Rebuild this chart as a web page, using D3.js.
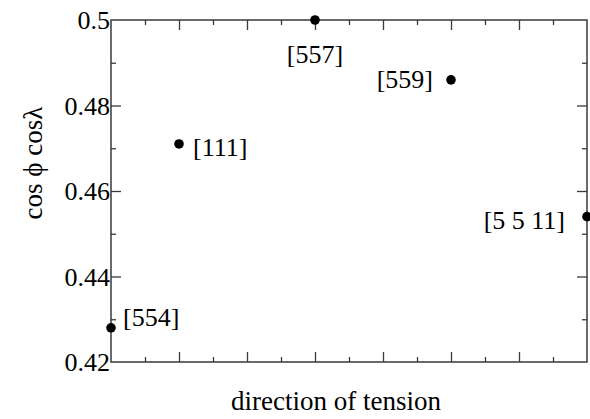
<!DOCTYPE html>
<html><head><meta charset="utf-8">
<script src="https://cdn.jsdelivr.net/npm/d3@7"></script>
<style>body{margin:0;background:#fff}svg{display:block}</style>
</head><body>
<svg id="c" width="590" height="419"></svg>
<script>
const directions = ["[554]","[111]","[557]","[559]","[5 5 11]"];
const positions = [0, 1, 3, 5, 7];
const values = [0.428, 0.471, 0.500, 0.486, 0.454];
const yTicks = [0.42, 0.44, 0.46, 0.48, 0.5];
const yTickLabels = ["0.42", "0.44", "0.46", "0.48", "0.5"];
const xTitle = "direction of tension";
const yTitle = "cos \u03D5 cos\u03BB";

const FONT = "Liberation Serif";
const svg = d3.select("#c");
const L = 111, R = 587, T = 20, B = 362;
const x = d3.scaleLinear().domain([0, 7]).range([L, R]);
const y = d3.scaleLinear().domain([0.42, 0.5]).range([B, T]);
const axisColor = "#3a3a3a";

svg.append("rect").attr("x", L).attr("y", T).attr("width", R - L).attr("height", B - T)
  .attr("fill", "none").attr("stroke", axisColor).attr("stroke-width", 1.5);

const xMajor = d3.range(1, 7);
const xMinor = d3.range(0.5, 7, 1);
const yMajor = [0.44, 0.46, 0.48];
const yMinor = [0.43, 0.45, 0.47, 0.49];

function ticks(axisFn, vals, len) {
  const g = svg.append("g").call(axisFn.tickValues(vals).tickSize(len).tickFormat(""));
  g.select(".domain").remove();
  g.selectAll("line").attr("stroke", axisColor).attr("stroke-width", 1.3);
  return g;
}
ticks(d3.axisTop(x), xMajor, 10).attr("transform", `translate(0,${B})`);
ticks(d3.axisTop(x), xMinor, 5).attr("transform", `translate(0,${B})`);
ticks(d3.axisBottom(x), xMajor, 10).attr("transform", `translate(0,${T})`);
ticks(d3.axisBottom(x), xMinor, 5).attr("transform", `translate(0,${T})`);
ticks(d3.axisRight(y), yMajor, 10).attr("transform", `translate(${L},0)`);
ticks(d3.axisRight(y), yMinor, 5).attr("transform", `translate(${L},0)`);
ticks(d3.axisLeft(y), yMajor, 10).attr("transform", `translate(${R},0)`);
ticks(d3.axisLeft(y), yMinor, 5).attr("transform", `translate(${R},0)`);

const yl = svg.append("g").attr("transform", `translate(${L},0)`)
  .call(d3.axisLeft(y).tickValues(yTicks).tickSize(0).tickPadding(1)
    .tickFormat((d, i) => yTickLabels[i]));
yl.select(".domain").remove();
yl.attr("font-family", null).attr("font-size", null);
yl.selectAll("text").style("font-family", FONT).style("font-size", "26px")
  .attr("fill", "#000").attr("dy", "0.34em");

const data = directions.map((d, i) => ({name: d, pos: positions[i], v: values[i]}));
svg.append("g").selectAll("circle").data(data).join("circle")
  .attr("cx", d => x(d.pos)).attr("cy", d => y(d.v)).attr("r", 4.8).attr("fill", "#000");

const labelOffsets = [
  {dx: 12, dy: -2, anchor: "start"},
  {dx: 14, dy: 12, anchor: "start"},
  {dx: 0, dy: 43, anchor: "middle"},
  {dx: -18, dy: 8, anchor: "end"},
  {dx: -22, dy: 12, anchor: "end"}
];
svg.append("g").selectAll("text").data(data).join("text")
  .attr("x", (d, i) => x(d.pos) + labelOffsets[i].dx)
  .attr("y", (d, i) => y(d.v) + labelOffsets[i].dy)
  .attr("text-anchor", (d, i) => labelOffsets[i].anchor)
  .style("font-family", FONT).style("font-size", "26px")
  .text(d => d.name);

svg.append("text").attr("x", (L + R) / 2 - 13).attr("y", 410).attr("text-anchor", "middle")
  .style("font-family", FONT).style("font-size", "27px").text(xTitle);
svg.append("text").attr("transform", "translate(42,163) rotate(-90)").attr("text-anchor", "middle")
  .style("font-family", FONT).style("font-size", "27px").text(yTitle);
</script>
</body></html>
